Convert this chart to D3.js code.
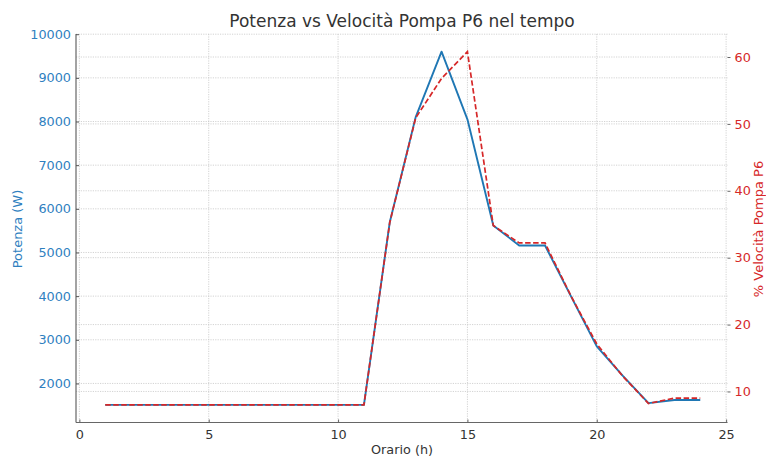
<!DOCTYPE html>
<html>
<head>
<meta charset="utf-8">
<script src="https://cdn.jsdelivr.net/npm/d3@7"></script>
<style>
  html, body { margin: 0; padding: 0; background: #fff; }
  svg { display: block; font-family: "DejaVu Sans", sans-serif; }
</style>
</head>
<body>
<svg id="chart" width="766" height="456"></svg>
<script>
// ---- data ----
const hours = [1,2,3,4,5,6,7,8,9,10,11,12,13,14,15,16,17,18,19,20,21,22,23,24];
const power = [1510,1510,1510,1510,1510,1510,1510,1510,1510,1510,1510,5700,8100,9600,8050,5620,5160,5160,4000,2850,2180,1550,1620,1620];
const speed = [8.0,8.0,8.0,8.0,8.0,8.0,8.0,8.0,8.0,8.0,8.0,35.3,50.9,56.8,60.8,34.8,32.2,32.2,24.3,17.1,12.3,8.2,9.0,9.0];
const xTicks = [0,5,10,15,20,25];
const powerTicks = [2000,3000,4000,5000,6000,7000,8000,9000,10000];
const speedTicks = [10,20,30,40,50,60];
const titleText = "Potenza vs Velocità Pompa P6 nel tempo";
const xLabel = "Orario (h)";
const yLeftLabel = "Potenza (W)";
const yRightLabel = "% Velocità Pompa P6";

// ---- layout ----
const mLeft = 76, mRight = 727.5, mTop = 34, mBottom = 422.5;
const blue = "#1f77b4", red = "#d62728";
const svg = d3.select("#chart");

function padded(vals) {
  const mn = d3.min(vals), mx = d3.max(vals), p = (mx - mn) * 0.05;
  return [mn - p, mx + p];
}
const x = d3.scaleLinear().domain(padded(hours)).range([75.5, 730]);
const yL = d3.scaleLinear().domain(padded(power)).range([mBottom, mTop]);
const yR = d3.scaleLinear().domain(padded(speed)).range([mBottom, mTop]);

// ---- grid ----
const grid = svg.append("g").attr("stroke", "#c8c8c8").attr("stroke-width", 0.8).attr("stroke-dasharray", "1.2,1.2");
grid.selectAll("line.gx").data(xTicks).join("line").attr("class", "gx")
  .attr("x1", d => x(d)).attr("x2", d => x(d)).attr("y1", mTop).attr("y2", mBottom);
grid.selectAll("line.gl").data(powerTicks).join("line").attr("class", "gl")
  .attr("x1", mLeft).attr("x2", mRight).attr("y1", d => yL(d)).attr("y2", d => yL(d));
grid.selectAll("line.gr").data(speedTicks).join("line").attr("class", "gr")
  .attr("x1", mLeft).attr("x2", mRight).attr("y1", d => yR(d)).attr("y2", d => yR(d));

// ---- axes ----
const axB = svg.append("g").attr("transform", `translate(0,${mBottom})`)
  .call(d3.axisBottom(x).tickValues(xTicks).tickSizeInner(-3).tickSizeOuter(0).tickPadding(7).tickFormat(d3.format("d")));
axB.select(".domain").attr("stroke", "#666").attr("stroke-width", 1.2).attr("d", `M${mLeft},0H${mRight}`);
axB.selectAll(".tick line").attr("stroke", "#666");
axB.selectAll(".tick text").attr("fill", "#333").attr("font-size", 12.8).attr("font-family", "DejaVu Sans");

const axL = svg.append("g").attr("transform", `translate(${mLeft},0)`)
  .call(d3.axisLeft(yL).tickValues(powerTicks).tickSizeInner(-3).tickSizeOuter(0).tickPadding(5).tickFormat(d3.format("d")));
axL.select(".domain").attr("stroke", "#666").attr("stroke-width", 1.2).attr("d", `M0,${mTop}V${mBottom}`);
axL.selectAll(".tick line").attr("stroke", "#555");
axL.selectAll(".tick text").attr("fill", "#2f7fbf").attr("font-size", 12.8).attr("font-family", "DejaVu Sans");

const axR = svg.append("g").attr("transform", `translate(${mRight},0)`)
  .call(d3.axisRight(yR).tickValues(speedTicks).tickSizeInner(3).tickSizeOuter(0).tickPadding(4).tickFormat(d3.format("d")));
axR.select(".domain").remove();
axR.selectAll(".tick line").attr("stroke", "#666");
axR.selectAll(".tick text").attr("fill", red).attr("font-size", 12.8).attr("font-family", "DejaVu Sans");

// ---- lines ----
const pts = hours.map((h, i) => ({h, p: power[i], s: speed[i]}));
svg.append("path").datum(pts)
  .attr("fill", "none").attr("stroke", blue).attr("stroke-width", 1.9).attr("stroke-linejoin", "round")
  .attr("d", d3.line().x(d => x(d.h)).y(d => yL(d.p)));
svg.append("path").datum(pts)
  .attr("fill", "none").attr("stroke", red).attr("stroke-width", 1.7).attr("stroke-dasharray", "5.5,2.5")
  .attr("d", d3.line().x(d => x(d.h)).y(d => yR(d.s)));

// ---- text ----
svg.append("text").attr("x", 402).attr("y", 27).attr("text-anchor", "middle")
  .attr("font-size", 17).attr("fill", "#333").text(titleText);
svg.append("text").attr("x", 402).attr("y", 454).attr("text-anchor", "middle")
  .attr("font-size", 12.8).attr("fill", "#333").text(xLabel);
svg.append("text").attr("transform", "translate(22,229) rotate(-90)").attr("text-anchor", "middle")
  .attr("font-size", 13).attr("fill", "#2f7fbf").text(yLeftLabel);
svg.append("text").attr("transform", "translate(762.5,229) rotate(-90)").attr("text-anchor", "middle")
  .attr("font-size", 13).attr("fill", red).text(yRightLabel);
</script>
</body>
</html>
